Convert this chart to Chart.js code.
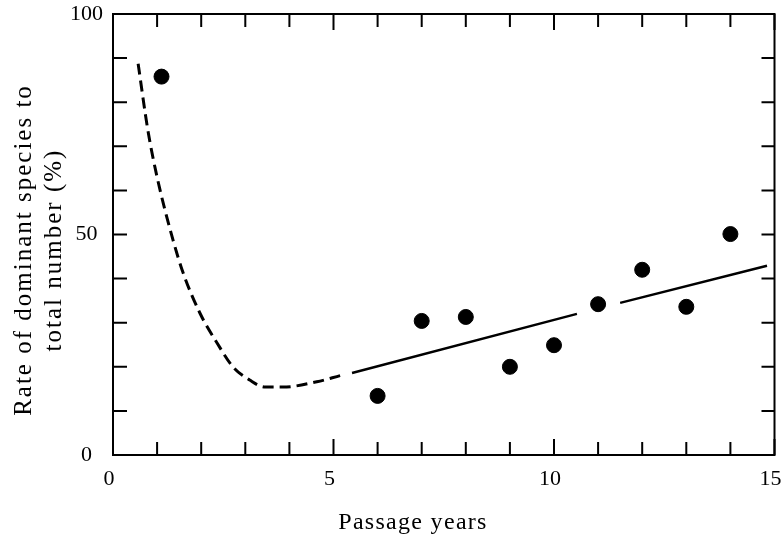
<!DOCTYPE html>
<html>
<head>
<meta charset="utf-8">
<script src="https://cdn.jsdelivr.net/npm/chart.js@4.4.0/dist/chart.umd.min.js"></script>
<style>
  html, body { margin: 0; padding: 0; background: #fff; }
  #wrap { width: 783px; height: 545px; }
</style>
</head>
<body>
<div id="wrap"><canvas id="grafico"></canvas></div>
<script>
// observed points
const anos = [1.1, 6, 7, 8, 9, 10, 11, 12, 13, 14];
const taxa = [85.8, 13.4, 30.4, 31.3, 20.0, 24.9, 34.2, 42.0, 33.6, 50.1];

// dashed freehand curve (early years)
const curvaX = [0.57, 0.79, 1.0, 1.36, 1.59, 1.97, 2.36, 2.72, 3.1, 3.45, 3.85, 4.62, 5.15];
const curvaY = [88.7, 73.7, 63.0, 48.8, 41.3, 32.2, 25.4, 20.0, 17.0, 15.4, 15.4, 16.6, 18.0];

// solid trend line, null = gap around the point at 11
const retaX = [5.42, 10.52, 11.0, 11.5, 14.83];
const retaY = [18.6, 32.0, null, 34.5, 42.9];

const tituloX = "Passage years";
const tituloY = ["Rate of dominant species to", "total number (%)"];

const fonte = "'Liberation Serif', 'Times New Roman', serif";

const pares = (xs, ys) => xs.map((x, i) => ({ x: x, y: ys[i] }));

const moldura = {
  id: "moldura",
  afterDraw(chart) {
    const { ctx, chartArea: a, scales } = chart;
    ctx.save();
    ctx.strokeStyle = "#000";
    ctx.lineWidth = 2;
    ctx.strokeRect(a.left, a.top, a.right - a.left, a.bottom - a.top);

    scales.x.ticks.forEach(t => {
      const px = scales.x.getPixelForValue(t.value);
      const len = t.value % 5 === 0 ? 16 : 13;
      ctx.beginPath();
      ctx.moveTo(px, a.bottom); ctx.lineTo(px, a.bottom - len);
      ctx.moveTo(px, a.top); ctx.lineTo(px, a.top + len);
      ctx.stroke();
    });
    scales.y.ticks.forEach(t => {
      const py = scales.y.getPixelForValue(t.value);
      ctx.beginPath();
      ctx.moveTo(a.left, py); ctx.lineTo(a.left + 14, py);
      ctx.moveTo(a.right, py); ctx.lineTo(a.right - 13, py);
      ctx.stroke();
    });

    // axis titles
    ctx.fillStyle = "#000";
    ctx.letterSpacing = "1.3px";
    ctx.font = "24px " + fonte;
    ctx.textAlign = "center";
    ctx.textBaseline = "alphabetic";
    ctx.fillText(tituloX, a.left + 300, 529);

    ctx.letterSpacing = "2px";
    ctx.font = "25px " + fonte;
    ctx.translate(0, 250);
    ctx.rotate(-Math.PI / 2);
    ctx.fillText(tituloY[0], 0, 31);
    ctx.fillText(tituloY[1], 0, 61);
    ctx.restore();
  }
};

new Chart(document.getElementById("grafico"), {
  type: "scatter",
  data: {
    datasets: [
      {
        data: pares(anos, taxa),
        backgroundColor: "#000",
        borderColor: "#000",
        pointRadius: 7.5,
        pointHoverRadius: 7.5
      },
      {
        data: pares(curvaX, curvaY),
        showLine: true,
        borderColor: "#000",
        borderWidth: 3,
        borderDash: [11, 6],
        cubicInterpolationMode: "monotone",
        pointRadius: 0
      },
      {
        data: pares(retaX, retaY),
        showLine: true,
        spanGaps: false,
        borderColor: "#000",
        borderWidth: 2.5,
        pointRadius: 0
      }
    ]
  },
  options: {
    responsive: true,
    maintainAspectRatio: false,
    animation: false,
    layout: { padding: { top: 14, right: 8, left: 0, bottom: 0 } },
    plugins: {
      legend: { display: false },
      tooltip: { enabled: false }
    },
    scales: {
      x: {
        type: "linear",
        min: 0,
        max: 15,
        grid: { display: false },
        border: { display: false },
        ticks: {
          stepSize: 1,
          autoSkip: false,
          maxRotation: 0,
          padding: 3,
          labelOffset: -4,
          color: "#000",
          font: { family: fonte, size: 22 },
          callback: v => (v % 5 === 0 ? v : "")
        },
        afterFit: s => {
          s.height = 90;
          s.paddingLeft = 0;
          s.paddingRight = 0;
        }
      },
      y: {
        min: 0,
        max: 100,
        grid: { display: false },
        border: { display: false },
        ticks: {
          stepSize: 10,
          autoSkip: false,
          crossAlign: "center",
          padding: 2,
          color: "#000",
          font: { family: fonte, size: 22 },
          callback: v => (v % 50 === 0 ? v : "")
        },
        afterFit: s => {
          s.width = 113;
          s.paddingTop = 0;
          s.paddingBottom = 0;
        }
      }
    }
  },
  plugins: [moldura]
});
</script>
</body>
</html>
